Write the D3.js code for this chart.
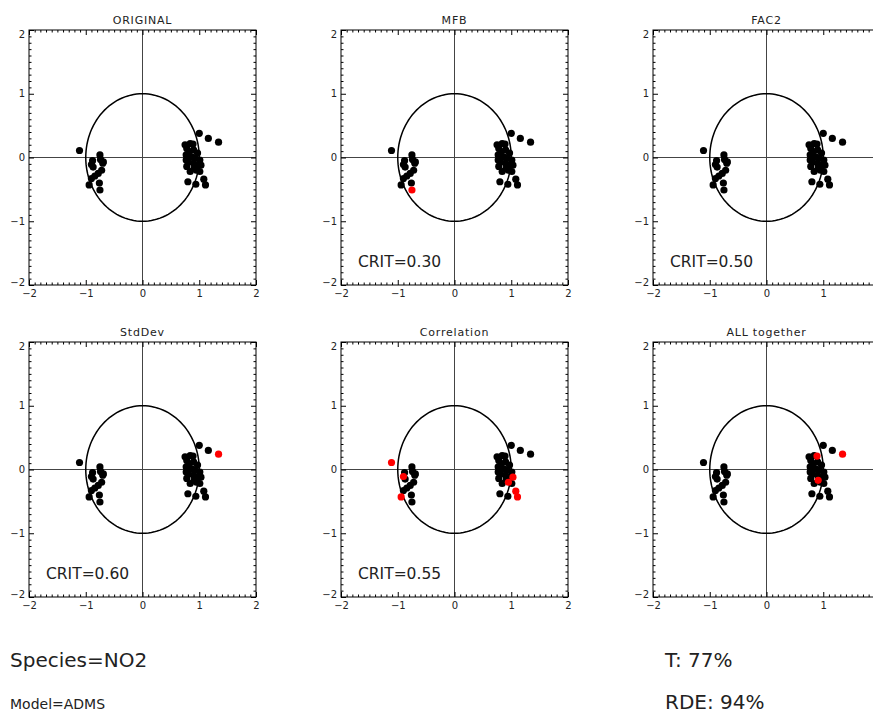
<!DOCTYPE html>
<html>
<head>
<meta charset="utf-8">
<script src="https://cdn.jsdelivr.net/npm/d3@7"></script>
<style>
  html, body { margin: 0; padding: 0; background: #fff; overflow: hidden; }
  svg { display: block; }
  .lbl { font-family: "DejaVu Sans", sans-serif; fill: #222; }
</style>
</head>
<body>
<svg id="chart" width="873" height="713"></svg>
<script>
// Normalised coordinates of each station (same set in every panel)
const ptX = [-1.11, -0.88, -0.75, -0.69, -0.90, -0.87, -0.72, -0.78, -0.84, -0.90, -0.94, -0.76, -0.75, -0.70, -0.74,
             1.00, 1.16, 1.34, 0.75, 0.84, 0.89, 0.78, 0.90, 0.97, 0.77, 0.87, 1.01, 0.81, 0.90, 1.03, 0.78, 0.91, 0.95,
             0.84, 1.01, 0.80, 0.94, 1.08, 1.11, 0.77, 0.93, 0.98, 0.82];
const ptY = [0.11, -0.05, 0.04, -0.07, -0.11, -0.15, -0.20, -0.25, -0.29, -0.33, -0.43, -0.40, -0.51, -0.09, -0.03,
             0.38, 0.30, 0.24, 0.20, 0.22, 0.21, 0.14, 0.12, 0.07, 0.04, 0.01, -0.04, -0.07, -0.09, -0.12, -0.14, -0.17, -0.20,
             -0.22, -0.22, -0.38, -0.42, -0.34, -0.43, -0.04, -0.01, -0.12, 0.09];

// Panel titles, criterion values and stations flagged by each test
const panelTitles = ["ORIGINAL", "MFB", "FAC2", "StdDev", "Correlation", "ALL together"];
const panelCrit = [null, "0.30", "0.50", "0.60", "0.55", null];
const flagged = [[], [12], [], [17], [0, 4, 10, 29, 32, 37, 38], [20, 17, 31]];

const majorTicks = [-2, -1, 0, 1, 2];
const minorTicks = d3.range(-20, 21).map(d => d / 10).filter(d => !majorTicks.includes(d));

const species = "NO2", model = "ADMS", tScore = "77%", rdeScore = "94%";

const W = 873;
const svg = d3.select("#chart");
const colX = [29, 341, 653], rowY = [30, 342];
const pw = 227, ph = 255;
const fmt = d => (d < 0 ? "\u2212" : "") + Math.abs(d);

panelTitles.forEach((title, i) => {
  const gx = colX[i % 3], gy = rowY[Math.floor(i / 3)];
  const g = svg.append("g").attr("transform", `translate(${gx},${gy})`);
  const x = d3.scaleLinear().domain([-2, 2]).range([0, pw]);
  const y = d3.scaleLinear().domain([-2, 2]).range([ph, 0]);

  // crosshair through the origin
  g.append("line").attr("x1", x(-2)).attr("x2", x(2)).attr("y1", y(0)).attr("y2", y(0))
    .attr("stroke", "#444").attr("stroke-width", 1);
  g.append("line").attr("x1", x(0)).attr("x2", x(0)).attr("y1", y(-2)).attr("y2", y(2))
    .attr("stroke", "#444").attr("stroke-width", 1);

  // unit circle
  const circ = d3.range(0, 361, 3).map(a => [x(Math.cos(a * Math.PI / 180)), y(Math.sin(a * Math.PI / 180))]);
  g.append("path").attr("d", d3.line()(circ)).attr("fill", "none").attr("stroke", "#000").attr("stroke-width", 1.5);

  // axes: major and minor ticks pointing inward on every side
  const addAxis = (axisFn, scale, tr, size, vals, labels) => {
    const a = axisFn(scale).tickValues(vals).tickSizeInner(size).tickSizeOuter(0)
      .tickPadding(labels ? 5 : 0).tickFormat(labels ? fmt : "");
    const ag = g.append("g").attr("transform", tr).call(a);
    ag.select(".domain").remove();
    ag.selectAll("line").attr("stroke", "#000");
    ag.selectAll("text").attr("class", "lbl").attr("font-size", 10).attr("fill", "#222");
    return ag;
  };
  const xl = addAxis(d3.axisBottom, x, `translate(0,${ph})`, -5, majorTicks, true);
  // labels that would fall past the right edge of the page are not drawn
  xl.selectAll(".tick").filter(d => gx + x(d) + 4 > W).select("text").remove();
  addAxis(d3.axisBottom, x, `translate(0,${ph})`, -2.5, minorTicks, false);
  addAxis(d3.axisTop, x, `translate(0,0)`, -5, majorTicks, false);
  addAxis(d3.axisTop, x, `translate(0,0)`, -2.5, minorTicks, false);
  const yl = addAxis(d3.axisLeft, y, `translate(0,0)`, -5, majorTicks, true);
  yl.selectAll("text").attr("dx", 1).attr("dy", d => d === 2 ? "0.75em" : d === -2 ? "0.05em" : "0.32em");
  addAxis(d3.axisLeft, y, `translate(0,0)`, -2.5, minorTicks, false);
  addAxis(d3.axisRight, y, `translate(${pw},0)`, -5, majorTicks, false);
  addAxis(d3.axisRight, y, `translate(${pw},0)`, -2.5, minorTicks, false);

  // frame
  g.append("rect").attr("x", 0).attr("y", 0).attr("width", pw).attr("height", ph)
    .attr("fill", "none").attr("stroke", "#000").attr("stroke-width", 1);

  // stations: normal first, flagged ones in red on top
  const idx = d3.range(ptX.length);
  const flag = new Set(flagged[i]);
  g.selectAll("circle.pt").data(idx.filter(k => !flag.has(k)).concat(flagged[i]))
    .join("circle").attr("class", "pt")
    .attr("cx", k => x(ptX[k])).attr("cy", k => y(ptY[k])).attr("r", 3.6)
    .attr("fill", k => flag.has(k) ? "#ff0000" : "#000");

  // title
  g.append("text").attr("class", "lbl").attr("x", pw / 2).attr("y", -6)
    .attr("text-anchor", "middle").attr("font-size", 11).attr("letter-spacing", 0.8).text(title);

  if (panelCrit[i] !== null) {
    g.append("text").attr("class", "lbl").attr("x", 17).attr("y", ph - 18)
      .attr("font-size", 15.5).text("CRIT=" + panelCrit[i]);
  }
});

// footer annotations
svg.append("text").attr("class", "lbl").attr("x", 10).attr("y", 667).attr("font-size", 20).text("Species=" + species);
svg.append("text").attr("class", "lbl").attr("x", 10).attr("y", 709).attr("font-size", 14).text("Model=" + model);
svg.append("text").attr("class", "lbl").attr("x", 665).attr("y", 667).attr("font-size", 20).text("T:  " + tScore);
svg.append("text").attr("class", "lbl").attr("x", 665).attr("y", 709).attr("font-size", 20).text("RDE:  " + rdeScore);
</script>
</body>
</html>
